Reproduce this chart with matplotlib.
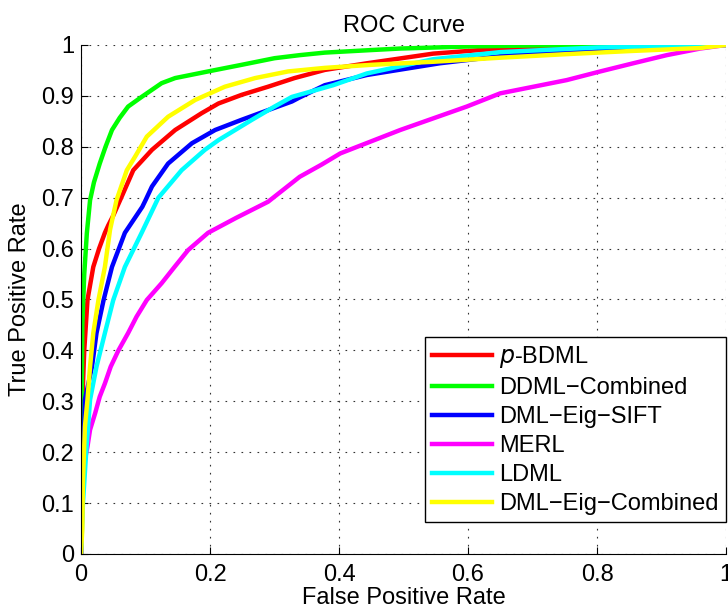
import matplotlib
matplotlib.use('Agg')
import matplotlib.pyplot as plt

plt.rcParams['font.family'] = ['Liberation Sans', 'DejaVu Sans']

# ROC points (false positive rate, true positive rate)
pbdml_fpr = [0, 0.0, 0.001, 0.002, 0.005, 0.010, 0.019, 0.028, 0.037, 0.042, 0.05, 0.063,
             0.081, 0.110, 0.146, 0.187, 0.213, 0.249, 0.290, 0.331, 0.378, 0.443, 0.546,
             0.65, 0.753, 0.85, 1.0]
pbdml_tpr = [0, 0.15, 0.25, 0.30, 0.40, 0.499, 0.564, 0.60, 0.631, 0.645, 0.665, 0.702,
             0.754, 0.794, 0.833, 0.866, 0.885, 0.902, 0.918, 0.935, 0.951, 0.964, 0.983,
             0.993, 0.998, 1.0, 1.0]

ddml_fpr = [0, 0.0, 0.001, 0.002, 0.005, 0.009, 0.014, 0.02, 0.029, 0.038, 0.048, 0.06,
            0.073, 0.094, 0.125, 0.146, 0.197, 0.249, 0.30, 0.339, 0.378, 0.45, 0.495,
            0.6, 0.7, 0.85, 1.0]
ddml_tpr = [0, 0.12, 0.30, 0.45, 0.55, 0.63, 0.695, 0.73, 0.767, 0.80, 0.833, 0.857,
            0.879, 0.898, 0.925, 0.935, 0.948, 0.961, 0.974, 0.980, 0.985, 0.990, 0.993,
            0.997, 0.999, 1.0, 1.0]

sift_fpr = [0, 0.002, 0.004, 0.006, 0.017, 0.024, 0.035, 0.048, 0.068, 0.095, 0.100,
            0.110, 0.135, 0.172, 0.208, 0.249, 0.290, 0.327, 0.339, 0.378, 0.443, 0.556,
            0.65, 0.75, 0.85, 1.0]
sift_tpr = [0, 0.1, 0.2, 0.303, 0.368, 0.434, 0.499, 0.564, 0.631, 0.682, 0.695,
            0.722, 0.767, 0.807, 0.833, 0.853, 0.872, 0.889, 0.897, 0.921, 0.941, 0.964,
            0.978, 0.987, 0.993, 1.0]

merl_fpr = [0, 0.0, 0.002, 0.005, 0.010, 0.014, 0.022, 0.029, 0.037, 0.046, 0.058, 0.073,
            0.086, 0.102, 0.125, 0.145, 0.166, 0.197, 0.240, 0.290, 0.339, 0.373, 0.402,
            0.495, 0.598, 0.65, 0.753, 0.805, 0.856, 0.908, 0.96, 1.0]
merl_tpr = [0, 0.10, 0.13, 0.179, 0.211, 0.244, 0.277, 0.309, 0.335, 0.368, 0.40, 0.434,
            0.466, 0.499, 0.532, 0.564, 0.597, 0.631, 0.660, 0.692, 0.741, 0.765, 0.787,
            0.833, 0.879, 0.905, 0.931, 0.948, 0.964, 0.980, 0.993, 1.0]

ldml_fpr = [0, 0.003, 0.008, 0.014, 0.024, 0.037, 0.050, 0.068, 0.094, 0.120, 0.156,
            0.192, 0.213, 0.239, 0.265, 0.300, 0.327, 0.391, 0.443, 0.546, 0.65, 0.80, 1.0]
ldml_tpr = [0, 0.1, 0.2, 0.303, 0.368, 0.434, 0.499, 0.564, 0.631, 0.700, 0.754,
            0.794, 0.813, 0.833, 0.853, 0.879, 0.898, 0.921, 0.944, 0.972, 0.986, 0.995, 1.0]

eig_fpr = [0, 0.002, 0.003, 0.006, 0.010, 0.014, 0.019, 0.027, 0.037, 0.045, 0.055,
           0.071, 0.084, 0.102, 0.135, 0.177, 0.223, 0.270, 0.321, 0.378, 0.45, 0.546,
           0.65, 0.753, 0.85, 0.96, 1.0]
eig_tpr = [0, 0.05, 0.145, 0.25, 0.303, 0.368, 0.434, 0.499, 0.564, 0.637, 0.695,
           0.754, 0.781, 0.820, 0.859, 0.892, 0.918, 0.935, 0.948, 0.955, 0.961, 0.967,
           0.975, 0.982, 0.988, 0.994, 1.0]

labels = ['$\\it{p}$-BDML', 'DDML\u2212Combined', 'DML\u2212Eig\u2212SIFT', 'MERL', 'LDML',
          'DML\u2212Eig\u2212Combined']
colors = ['#ff0000', '#00ff00', '#0000ff', '#ff00ff', '#00ffff', '#ffff00']

curves = [(pbdml_fpr, pbdml_tpr), (ddml_fpr, ddml_tpr), (sift_fpr, sift_tpr),
          (merl_fpr, merl_tpr), (ldml_fpr, ldml_tpr), (eig_fpr, eig_tpr)]

fig = plt.figure(figsize=(7.28, 6.11), dpi=100)
ax = fig.add_axes([0.1113, 0.0933, 0.8860, 0.8331])

for (x, y), lab, c in zip(curves, labels, colors):
    ax.plot(x, y, color=c, linewidth=3.2, label=lab)

ax.set_xlim(0, 1)
ax.set_ylim(0, 1)
ax.set_xticks([0, 0.2, 0.4, 0.6, 0.8, 1])
ax.set_xticklabels(['0', '0.2', '0.4', '0.6', '0.8', '1'])
ax.set_yticks([i / 10 for i in range(11)])
ax.set_yticklabels(['0'] + ['0.%d' % i for i in range(1, 10)] + ['1'])
# sparse MATLAB-like dotted grid
ax.grid(True, linestyle=(0, (1.5, 5.7)), color='#333333', linewidth=0.8)
ax.spines['top'].set_visible(False)
ax.spines['right'].set_visible(False)
ax.tick_params(direction='in', length=5, labelsize=17)
ax.tick_params(axis='x', pad=7)
ax.tick_params(axis='y', pad=5)

ax.set_xlabel('False Positive Rate', fontsize=17, labelpad=1)
ax.set_ylabel('True Positive Rate', fontsize=17, labelpad=7)
ax.set_title('ROC Curve', fontsize=17, pad=9)

leg = ax.legend(loc='lower right', bbox_to_anchor=(1.0, 0.0623), borderaxespad=0,
                fontsize=17, fancybox=False, framealpha=1, edgecolor='black',
                handlelength=2.55, handletextpad=0.3, labelspacing=0.3, borderpad=0.3)
leg.get_frame().set_linewidth(1.0)

fig.savefig('out.png', dpi=100)
